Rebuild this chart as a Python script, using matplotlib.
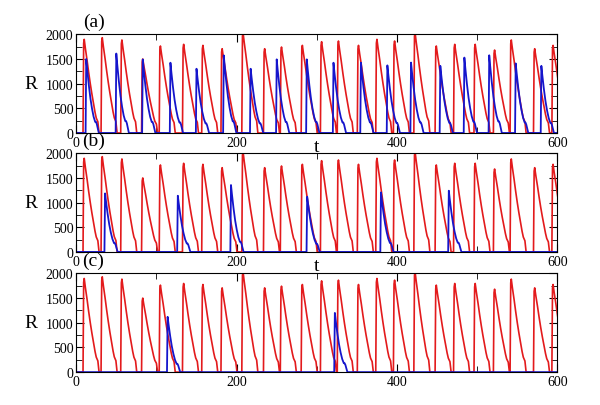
import numpy as np
import matplotlib
matplotlib.use('Agg')
import matplotlib.pyplot as plt
from matplotlib.ticker import MultipleLocator

plt.rcParams['font.family'] = ['Liberation Serif', 'DejaVu Serif']

# red trace: peak times and peak heights (same in all three panels)
red_t = [10, 32.5, 57, 83, 105, 134, 158, 182, 208, 235, 256, 282, 306,
         327, 352, 375, 397, 422.5, 449, 472, 497.5, 521.7, 542.5, 571.7, 594.6]
red_R = [1898, 1932, 1885, 1500, 1763, 1797, 1776, 1708, 2040, 1708, 1742, 1776, 1850,
         1864, 1776, 1898, 1864, 2040, 1763, 1797, 1797, 1681, 1885, 1708, 1776]

# blue traces: peak times and heights for each panel
blue_a_t = [12.5, 50, 83, 117.5, 150, 184, 217.5, 250, 287.5, 320.8, 355, 388,
            417.5, 454, 484, 515, 548, 580]
blue_a_R = [1500, 1610, 1490, 1424, 1302, 1573, 1302, 1492, 1492, 1424, 1424, 1370,
            1427, 1360, 1528, 1575, 1410, 1360]
blue_b_t = [36, 126.7, 193, 288, 380, 464.6]
blue_b_R = [1186, 1139, 1356, 1119, 1207, 1241]
blue_c_t = [114, 322.5]
blue_c_R = [1120, 1200]

# spike shapes (time after onset, fraction of peak)
red_dt = [0, 0.8, 1.5, 3, 5, 7, 9, 11, 13, 15, 16.5, 17.5, 18.5, 19.3, 20]
red_fr = [0, 0.96, 1, 0.9, 0.78, 0.65, 0.53, 0.42, 0.32, 0.22, 0.16, 0.14, 0.12, 0.06, 0]
blue_dt = [0, 0.8, 2, 4, 6, 8, 10, 12, 13, 14, 15, 16.5]
blue_fr = [0, 1, 0.86, 0.65, 0.47, 0.33, 0.22, 0.15, 0.15, 0.12, 0.07, 0]


def trace(peaks, heights, dt, fr, peak_off):
    t = [0.0]
    r = [0.0]
    for p, h in zip(peaks, heights):
        t0 = p - peak_off
        for d, f in zip(dt, fr):
            t.append(t0 + d)
            r.append(h * f)
    t.append(600.0)
    r.append(0.0)
    return np.array(t), np.array(r)


rt, rr = trace(red_t, red_R, red_dt, red_fr, 1.5)
blues = [(blue_a_t, blue_a_R), (blue_b_t, blue_b_R), (blue_c_t, blue_c_R)]
labels = ['(a)', '(b)', '(c)']

fig = plt.figure(figsize=(6.0, 4.06), dpi=100)
bottoms = [0.670, 0.377, 0.081]
for i in range(3):
    ax = fig.add_axes([0.127, bottoms[i], 0.802, 0.243])
    ax.plot(rt, rr, color='#e31a1c', lw=1.2)
    bt, br = trace(blues[i][0], blues[i][1], blue_dt, blue_fr, 0.8)
    ax.plot(bt, br, color='#1515cc', lw=1.3)
    ax.set_xlim(0, 600)
    ax.set_ylim(0, 2000)
    ax.xaxis.set_major_locator(MultipleLocator(200))
    ax.xaxis.set_minor_locator(MultipleLocator(100))
    ax.yaxis.set_major_locator(MultipleLocator(500))
    ax.yaxis.set_minor_locator(MultipleLocator(250))
    ax.tick_params(which='both', direction='in', top=True, right=True,
                   labelsize=10, pad=2)
    ax.tick_params(which='major', length=6)
    ax.tick_params(which='minor', length=4)
    ax.set_ylabel('R', fontsize=14, rotation=0, labelpad=11, va='center')
    ax.text(0.036, 1.13, labels[i], transform=ax.transAxes, fontsize=14,
            ha='center', va='center')
    if i < 2:
        ax.set_xlabel('t', fontsize=14, labelpad=-8)

fig.savefig('out.png', dpi=100)
